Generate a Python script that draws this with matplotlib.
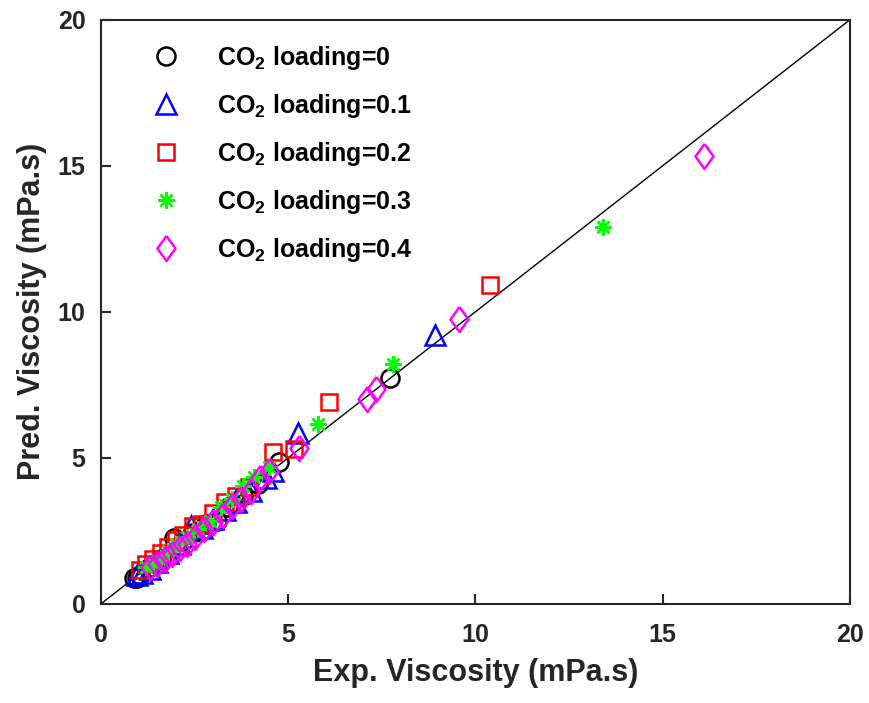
import matplotlib
matplotlib.use("Agg")
import matplotlib.pyplot as plt

plt.rcParams['font.family'] = ['Liberation Sans', 'DejaVu Sans']
plt.rcParams['font.weight'] = 'bold'
plt.rcParams['mathtext.fontset'] = 'custom'
plt.rcParams['mathtext.bf'] = 'Liberation Sans:bold'
plt.rcParams['mathtext.rm'] = 'Liberation Sans:bold'
plt.rcParams['mathtext.default'] = 'bf'

# CO2 loading = 0
exp0 = [0.88, 0.95, 1.05, 1.3, 1.6, 1.95, 2.2, 2.5, 2.8, 3.1, 3.4, 3.8, 4.2, 4.75, 7.73]
pred0 = [0.90, 0.88, 1.00, 1.25, 1.55, 2.25, 2.15, 2.45, 2.75, 2.85, 3.3, 3.7, 4.1, 4.85, 7.72]
# CO2 loading = 0.1
exp1 = [0.95, 1.1, 1.3, 1.5, 1.8, 2.1, 2.4, 2.7, 3.0, 3.3, 3.6, 4.0, 4.4, 4.6, 5.25, 8.92]
pred1 = [0.98, 1.05, 1.2, 1.45, 1.75, 2.05, 2.65, 2.6, 2.9, 3.2, 3.5, 3.85, 4.3, 4.55, 5.85, 9.2]
# CO2 loading = 0.2
exp2 = [1.05, 1.2, 1.4, 1.6, 1.8, 2.0, 2.2, 2.45, 2.7, 3.0, 3.3, 3.6, 3.95, 4.6, 5.15, 6.1, 10.4]
pred2 = [1.15, 1.35, 1.55, 1.75, 1.95, 2.2, 2.35, 2.65, 2.75, 3.1, 3.5, 3.7, 4.0, 5.2, 5.3, 6.9, 10.9]
# CO2 loading = 0.3
exp3 = [1.2, 1.4, 1.6, 1.8, 2.0, 2.3, 2.6, 2.9, 3.2, 3.5, 3.8, 4.1, 4.5, 5.8, 7.8, 13.4]
pred3 = [1.25, 1.4, 1.5, 1.8, 2.05, 2.3, 2.55, 2.85, 3.3, 3.6, 4.05, 4.35, 4.7, 6.15, 8.2, 12.9]
# CO2 loading = 0.4
exp4 = [1.3, 1.5, 1.7, 1.9, 2.1, 2.3, 2.5, 2.75, 3.0, 3.25, 3.5, 3.75, 4.0, 4.25, 4.5, 5.3, 7.1, 7.35, 9.55, 16.1]
pred4 = [1.25, 1.35, 1.55, 1.7, 1.9, 2.05, 2.3, 2.55, 2.8, 3.05, 3.35, 3.6, 3.85, 4.3, 4.55, 5.35, 7.0, 7.35, 9.75, 15.35]

labels = ['CO$_{2}$ loading=0', 'CO$_{2}$ loading=0.1', 'CO$_{2}$ loading=0.2',
          'CO$_{2}$ loading=0.3', 'CO$_{2}$ loading=0.4']

# matlab-like diamond (taller than wide)
diamond = [(0, 1), (0.72, 0), (0, -1), (-0.72, 0), (0, 1)]

fig = plt.figure(figsize=(8.7, 7.03), dpi=100)
ax = fig.add_axes([0.116, 0.141, 0.861, 0.831])

ax.plot([0, 20], [0, 20], color='black', lw=1.0, zorder=1)

ax.plot(exp0, pred0, 'o', ls='none', mfc='none', mec='black', mew=1.8, ms=13, label=labels[0])
ax.plot(exp1, pred1, '^', ls='none', mfc='none', mec='blue', mew=1.8, ms=14, label=labels[1])
ax.plot(exp2, pred2, 's', ls='none', mfc='none', mec='red', mew=1.8, ms=11, label=labels[2])
ax.plot(exp3, pred3, marker=(8, 2, 0), ls='none', color='#00ff00', mew=1.8, ms=12, label=labels[3])
ax.plot(exp4, pred4, marker=diamond, ls='none', mfc='none', mec='magenta', mew=1.8, ms=18, label=labels[4])

ax.set_xlim(0, 20)
ax.set_ylim(0, 20)
ax.set_xticks([0, 5, 10, 15, 20])
ax.set_yticks([0, 5, 10, 15, 20])
ax.tick_params(direction='in', length=7, width=1.5, labelsize=18,
               top=False, right=False, colors='#262626')
ax.tick_params(axis='x', pad=14)
ax.tick_params(axis='y', pad=11)
for s in ax.spines.values():
    s.set_linewidth(1.5)
    s.set_color('#262626')

ax.set_xlabel('Exp. Viscosity (mPa.s)', fontsize=22, fontweight='bold', color='#262626', labelpad=8)
ax.set_ylabel('Pred. Viscosity (mPa.s)', fontsize=22, fontweight='bold', color='#262626', labelpad=8)

ax.legend(loc='upper left', frameon=False, fontsize=18, handletextpad=1.04,
          labelspacing=0.8, borderaxespad=0, bbox_to_anchor=(0.04, 0.976))

fig.savefig('out.png', dpi=100)
